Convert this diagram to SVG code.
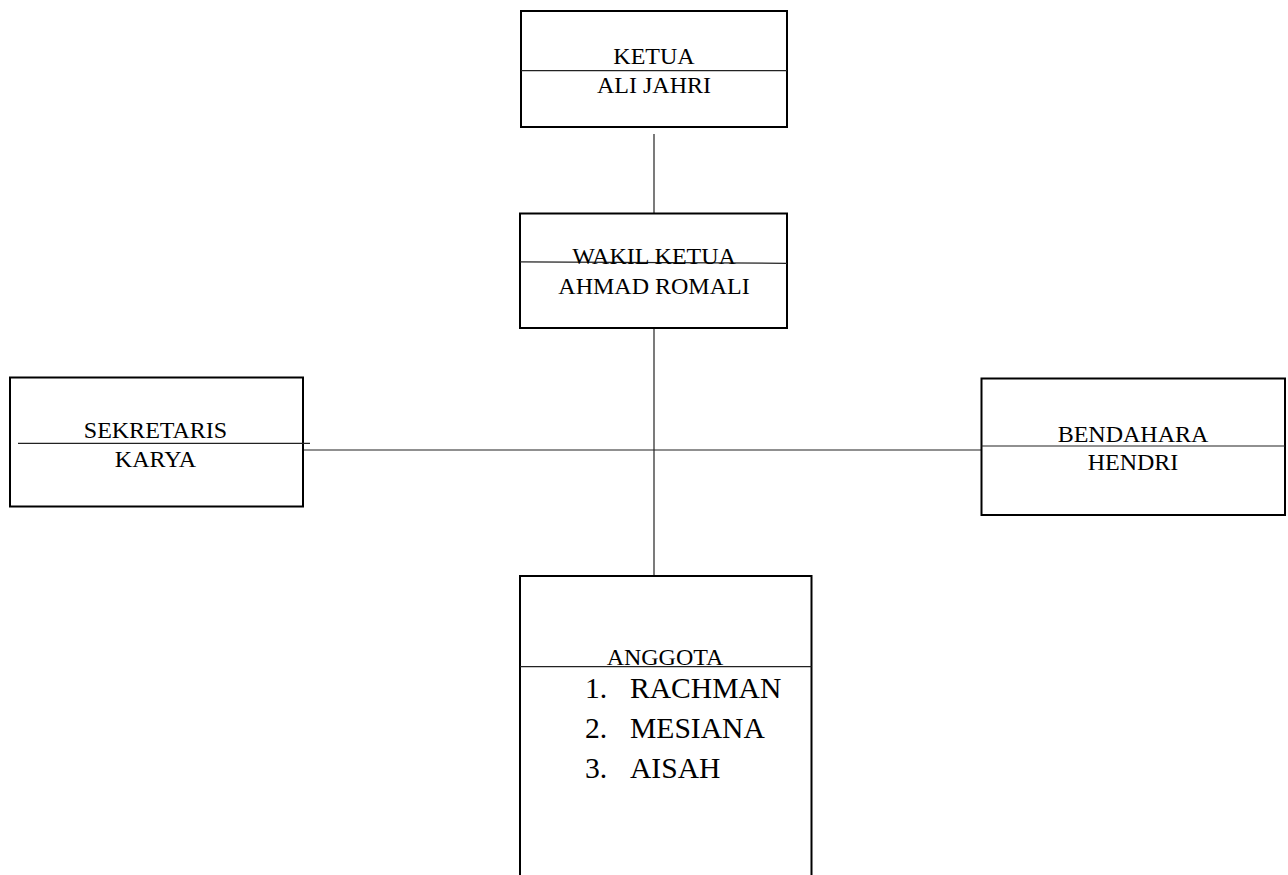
<svg xmlns="http://www.w3.org/2000/svg" width="1288" height="875" viewBox="0 0 1288 875">
<style>
.box{fill:#fff;stroke:#000;stroke-width:2}
.div{stroke:#222;stroke-width:1.2;fill:none}
.con{stroke:#222;stroke-width:1.2;fill:none}
text{font-family:"Liberation Serif","Times New Roman",serif;font-size:24px;fill:#000}
.c{text-anchor:middle}
.big{font-size:29.6px}
</style>
<rect width="1288" height="875" fill="#fff"/>
<g id="connectors">
<line class="con" x1="654" y1="134" x2="654" y2="213"/>
<line class="con" x1="654" y1="328" x2="654" y2="576"/>
<line class="con" x1="303" y1="450" x2="982" y2="450"/>
</g>
<g id="ketua">
<rect class="box" x="521" y="11" width="266" height="116"/>
<line class="div" x1="521" y1="70.7" x2="787" y2="70.7"/>
<text class="c" x="654" y="64">KETUA</text>
<text class="c" x="654" y="92.5">ALI JAHRI</text>
</g>
<g id="wakil">
<rect class="box" x="520" y="213.5" width="267" height="114.5"/>
<line class="div" x1="520" y1="261.8" x2="787" y2="263.3"/>
<text class="c" x="654" y="264">WAKIL KETUA</text>
<text class="c" x="654" y="293.5">AHMAD ROMALI</text>
</g>
<g id="sekretaris">
<rect class="box" x="10" y="377.5" width="293" height="129"/>
<line class="div" x1="18" y1="443.3" x2="310" y2="443.3"/>
<text class="c" x="155.5" y="437.7">SEKRETARIS</text>
<text class="c" x="155.5" y="466.7">KARYA</text>
</g>
<g id="bendahara">
<rect class="box" x="981.5" y="378.5" width="303.5" height="136.5"/>
<line class="div" x1="981.5" y1="446" x2="1285" y2="446"/>
<text class="c" x="1133" y="441.7">BENDAHARA</text>
<text class="c" x="1133" y="470">HENDRI</text>
</g>
<g id="anggota">
<path class="box" d="M520,876 V576 H811.5 V876"/>
<line class="div" x1="520" y1="666.7" x2="811.5" y2="666.7"/>
<text class="c" x="665" y="665">ANGGOTA</text>
<text class="big" x="585" y="698.3">1.</text>
<text class="big" x="630" y="698.3">RACHMAN</text>
<text class="big" x="585" y="738.3">2.</text>
<text class="big" x="630" y="738.3">MESIANA</text>
<text class="big" x="585" y="778.3">3.</text>
<text class="big" x="630" y="778.3">AISAH</text>
</g>
</svg>
